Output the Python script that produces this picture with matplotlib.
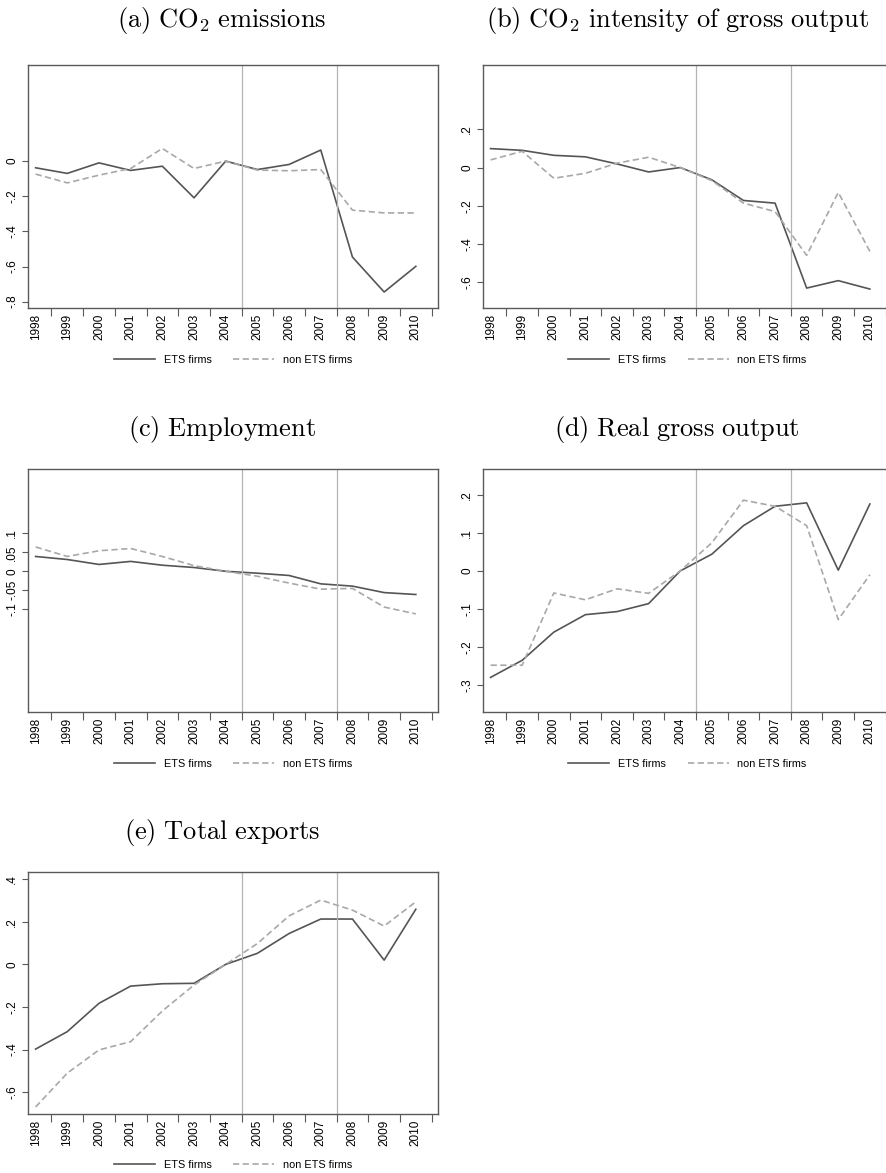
import numpy as np
import matplotlib
matplotlib.use("Agg")
import matplotlib.pyplot as plt
from matplotlib.lines import Line2D

plt.rcParams['font.family'] = ['Liberation Sans', 'DejaVu Sans']
plt.rcParams['mathtext.fontset'] = 'cm'
plt.rcParams['lines.scale_dashes'] = False

years = list(range(1998, 2011))
year_labels = [str(y) for y in years]

# (a) CO2 emissions
co2_ets = [-0.038, -0.070, -0.010, -0.053, -0.029, -0.209, 0.0, -0.048, -0.019, 0.063, -0.546, -0.745, -0.599]
co2_non = [-0.074, -0.124, -0.080, -0.042, 0.072, -0.042, 0.0, -0.051, -0.055, -0.048, -0.279, -0.295, -0.295]
co2_ticks = [0, -0.2, -0.4, -0.6, -0.8]
co2_ticklabels = ['0', '-.2', '-.4', '-.6', '-.8']

# (b) CO2 intensity of gross output
int_ets = [0.099, 0.090, 0.064, 0.056, 0.019, -0.023, 0.0, -0.064, -0.172, -0.186, -0.630, -0.591, -0.635]
int_non = [0.040, 0.085, -0.056, -0.030, 0.023, 0.054, 0.0, -0.068, -0.186, -0.230, -0.459, -0.130, -0.438]
int_ticks = [0.2, 0, -0.2, -0.4, -0.6]
int_ticklabels = ['.2', '0', '-.2', '-.4', '-.6']

# (c) Employment
emp_ets = [0.039, 0.031, 0.018, 0.026, 0.016, 0.010, 0.0, -0.005, -0.011, -0.033, -0.039, -0.056, -0.061]
emp_non = [0.064, 0.039, 0.054, 0.060, 0.039, 0.015, 0.0, -0.013, -0.031, -0.047, -0.045, -0.094, -0.112]
emp_ticks = [0.1, 0.05, 0, -0.05, -0.1]
emp_ticklabels = ['.1', '.05', '0', '-.05', '-.1']

# (d) Real gross output
out_ets = [-0.280, -0.235, -0.161, -0.115, -0.107, -0.086, 0.0, 0.044, 0.119, 0.170, 0.179, 0.002, 0.176]
out_non = [-0.248, -0.248, -0.058, -0.076, -0.047, -0.059, 0.0, 0.074, 0.186, 0.170, 0.119, -0.128, -0.010]
out_ticks = [0.2, 0.1, 0, -0.1, -0.2, -0.3]
out_ticklabels = ['.2', '.1', '0', '-.1', '-.2', '-.3']

# (e) Total exports
exp_ets = [-0.398, -0.316, -0.183, -0.102, -0.091, -0.089, 0.0, 0.052, 0.145, 0.213, 0.213, 0.020, 0.259]
exp_non = [-0.670, -0.511, -0.402, -0.363, -0.219, -0.097, 0.0, 0.098, 0.228, 0.302, 0.255, 0.180, 0.294]
exp_ticks = [0.4, 0.2, 0, -0.2, -0.4, -0.6]
exp_ticklabels = ['.4', '.2', '0', '-.2', '-.4', '-.6']

W, H = 886, 1173
fig = plt.figure(figsize=(W / 100, H / 100), dpi=100)

ETS_COL = '#555555'
NON_COL = '#a8a8a8'
VL_COL = '#b4b4b4'
SPINE_COL = '#5a5a5a'


def px_axes(left, right, top, bottom):
    return fig.add_axes([left / W, 1 - bottom / H, (right - left) / W, (bottom - top) / H])


def panel(box, title, title_xy, legend_y, ets, non, ticks, ticklabels, ylim):
    ax = px_axes(*box)
    ax.plot(years, ets, color=ETS_COL, lw=1.2)
    ax.plot(years, non, color=NON_COL, lw=1.2, dashes=(4.5, 2.5))
    for xv in (2004.5, 2007.5):
        ax.axvline(xv, color=VL_COL, lw=0.9)
    ax.set_xlim(1997.76, 2010.7)
    ax.set_ylim(*ylim)

    # tick marks between years, labels on the years
    ax.set_xticks([y + 0.5 for y in years])
    ax.set_xticklabels([])
    ax.set_xticks(years, minor=True)
    ax.set_xticklabels(year_labels, minor=True, rotation=90, fontsize=8.5)
    ax.tick_params(axis='x', which='major', length=6, width=0.8, color=SPINE_COL, direction='out')
    ax.tick_params(axis='x', which='minor', length=0, pad=4)

    ax.set_yticks(ticks)
    ax.set_yticklabels(ticklabels, rotation=90, va='center', fontsize=8.5)
    ax.tick_params(axis='y', length=4, width=0.8, color=SPINE_COL, pad=3)

    for s in ax.spines.values():
        s.set_color(SPINE_COL)
        s.set_linewidth(1.0)

    fig.text(title_xy[0] / W, 1 - title_xy[1] / H, title, ha='center', va='center', fontsize=19)

    handles = [Line2D([], [], color=ETS_COL, lw=1.2),
               Line2D([], [], color=NON_COL, lw=1.2, dashes=(4.5, 2.5))]
    cx = (box[0] + box[1]) / 2
    fig.legend(handles, ['ETS firms', 'non ETS firms'], loc='center',
               bbox_to_anchor=(cx / W, 1 - legend_y / H), ncol=2, frameon=False,
               fontsize=7.8, handlelength=3.8, handletextpad=0.8, columnspacing=2.0)
    return ax


panel((28, 438, 65, 308), r'$\mathrm{(a)\ CO_2\ emissions}$', (222, 20), 360,
      co2_ets, co2_non, co2_ticks, co2_ticklabels, (-0.836, 0.547))
panel((483, 892, 65, 308), r'$\mathrm{(b)\ CO_2\ intensity\ of\ gross\ output}$', (677, 20), 360,
      int_ets, int_non, int_ticks, int_ticklabels, (-0.734, 0.536))
panel((28, 438, 469, 712), r'$\mathrm{(c)\ Employment}$', (222, 430), 764,
      emp_ets, emp_non, emp_ticks, emp_ticklabels, (-0.370, 0.269))
panel((483, 892, 469, 712), r'$\mathrm{(d)\ Real\ gross\ output}$', (677, 430), 764,
      out_ets, out_non, out_ticks, out_ticklabels, (-0.371, 0.268))
panel((28, 438, 872, 1114), r'$\mathrm{(e)\ Total\ exports}$', (222, 832), 1165,
      exp_ets, exp_non, exp_ticks, exp_ticklabels, (-0.703, 0.434))

fig.savefig('out.png', dpi=100)
